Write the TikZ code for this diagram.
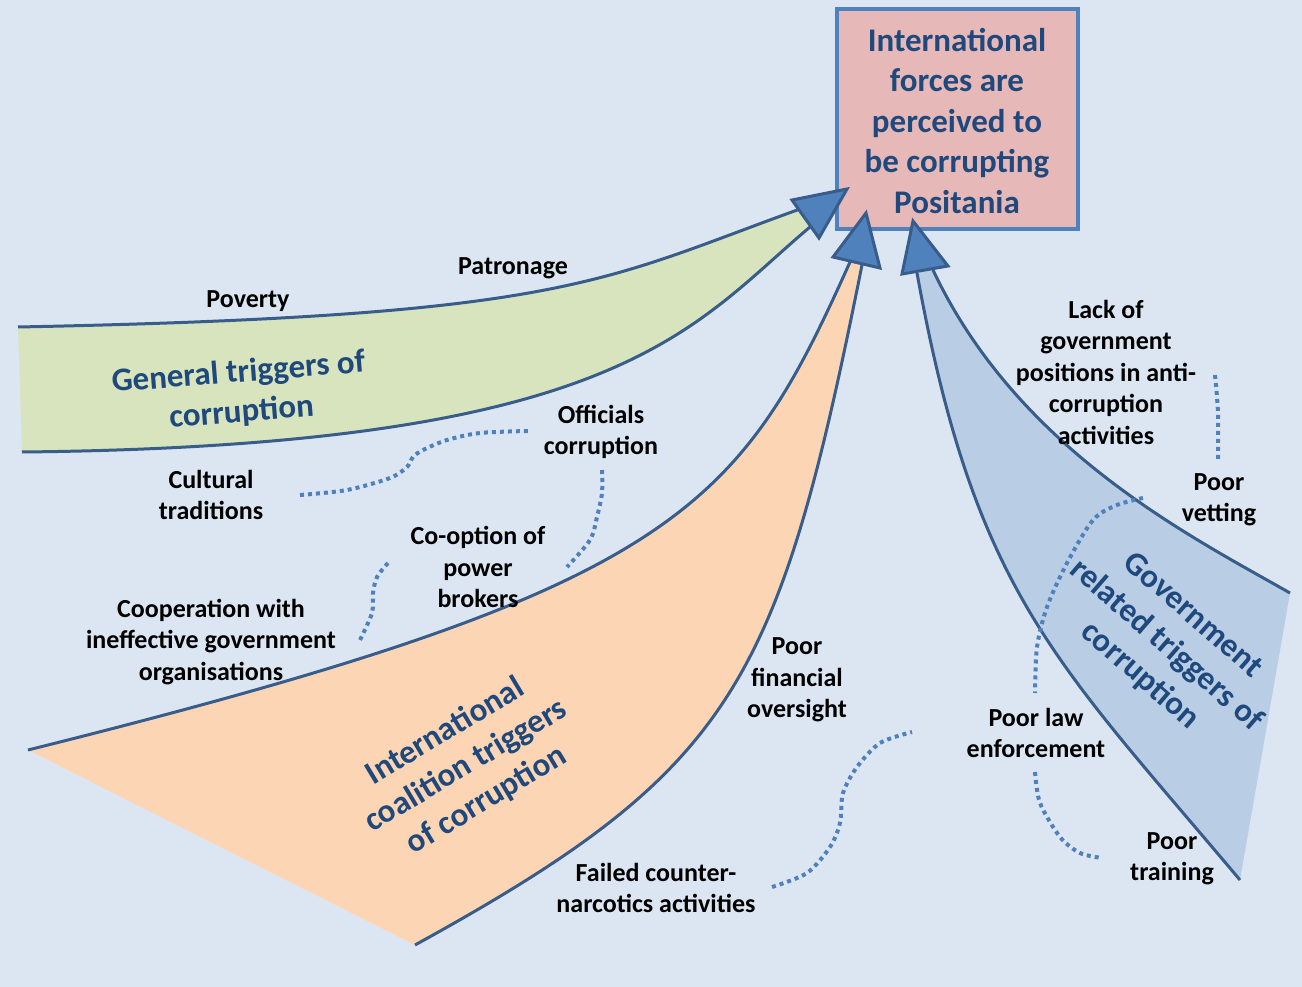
\documentclass[tikz,border=0pt]{standalone}
\usepackage{fontspec}
\setmainfont{Carlito}
\definecolor{bgc}{HTML}{DCE6F2}
\definecolor{greenF}{HTML}{D7E4BD}
\definecolor{orangeF}{HTML}{FCD5B5}
\definecolor{blueF}{HTML}{B9CDE5}
\definecolor{boxF}{HTML}{E6B9B8}
\definecolor{lineC}{HTML}{385D8A}
\definecolor{arrowF}{HTML}{4F81BD}
\definecolor{titleC}{HTML}{1F497D}
\begin{document}
\begin{tikzpicture}[x=1pt,y=-1pt,
  edge/.style={draw=lineC,line width=3pt},
  tip/.style={fill=arrowF,draw=lineC,line width=3pt},
  dots/.style={draw=arrowF,line width=4pt,dash pattern=on 4pt off 4pt},
  lbl/.style={font=\bfseries\fontsize{26}{31.5}\selectfont,align=center,inner sep=0pt,text=black},
  ttl/.style={font=\bfseries\fontsize{33}{40}\selectfont,align=center,inner sep=0pt,text=titleC}]
\useasboundingbox (0,0) rectangle (1302,987);
\fill[bgc] (0,0) rectangle (1302,987);

% band end points
\coordinate (gA) at (18,327);  \coordinate (gB) at (800,209);
\coordinate (gC) at (810,227); \coordinate (gD) at (22,452);
\coordinate (oA) at (28,750);  \coordinate (oB) at (850,262);
\coordinate (oC) at (862,265); \coordinate (oD) at (415,945);
\coordinate (bA) at (917,273); \coordinate (bB) at (1240,880);
\coordinate (bC) at (1290,593); \coordinate (bD) at (933,270);

% green band
\fill[greenF] (gA) .. controls (568,316) and (600,281) .. (gB) -- (gC)
  .. controls (690,328) and (622,446) .. (gD) -- cycle;
\draw[edge] (gA) .. controls (568,316) and (600,281) .. (gB);
\draw[edge] (gD) .. controls (622,446) and (690,328) .. (gC);

% orange band
\fill[orangeF] (oA) .. controls (678,588) and (738,512) .. (oB) -- (oC)
  .. controls (778,685) and (735,769) .. (oD) -- cycle;
\draw[edge] (oA) .. controls (678,588) and (738,512) .. (oB);
\draw[edge] (oD) .. controls (735,769) and (778,685) .. (oC);

% blue band
\fill[blueF] (bA) .. controls (975,593) and (1055,660) .. (bB) -- (bC)
  .. controls (1190,536) and (1018,450) .. (bD) -- cycle;
\draw[edge] (bA) .. controls (975,593) and (1055,660) .. (bB);
\draw[edge] (bC) .. controls (1190,536) and (1018,450) .. (bD);

% dotted links
\draw[dots] plot[smooth] coordinates {(300,495) (347,490) (390,478) (407,467) (413,457) (423,450) (447,440) (480,433) (528,431)};
\draw[dots] plot[smooth] coordinates {(602,470) (602,493) (597,517) (590,540) (567,567)};
\draw[dots] plot[smooth] coordinates {(388,563) (377,577) (373,593) (372,613) (360,640)};
\draw[dots] plot[smooth] coordinates {(772,887) (807,873) (830,847) (840,823) (843,793) (857,767) (880,743) (912,732)};
\draw[dots] plot[smooth] coordinates {(1035,772) (1040,803) (1060,837) (1080,853) (1102,858)};
\draw[dots] plot[smooth] coordinates {(1215,375) (1218,413) (1218,460)};
\draw[dots] plot[smooth] coordinates {(1143,498) (1117,505) (1093,520) (1067,563) (1047,607) (1037,647) (1035,693)};

% target box
\node[draw=arrowF,fill=boxF,line width=3.5pt,minimum width=241pt,minimum height=220pt,inner sep=0pt] (goal) at (957.5,119) {};
\node[ttl,font=\bfseries\fontsize{33}{40.5}\selectfont] (goaltxt) at (957,121) {International\\forces are\\perceived to\\be corrupting\\Positania};

% arrow heads
\draw[tip] (792,200) -- (847,189) -- (819,238) -- cycle;
\draw[tip] (833,257) -- (866,213) -- (880,268) -- cycle;
\draw[tip] (902,274) -- (913,221) -- (948,266) -- cycle;

% band titles
\node[ttl,rotate=4.5] (tgen) at (240,393) {General triggers of\\corruption};
\node[ttl,rotate=31] (tint) at (466,766) {International\\coalition triggers\\of corruption};
\node[ttl,rotate=-41] (tgov) at (1166,646) {Government\\related triggers of\\corruption};

% labels
\node[lbl] (poverty) at (248,301) {Poverty};
\node[lbl] (patron) at (513,268) {Patronage};
\node[lbl] (cult) at (211,495) {Cultural\\traditions};
\node[lbl] (offic) at (601,432) {Officials\\corruption};
\node[lbl] (coopt) at (478,567) {Co-option of\\power\\brokers};
\node[lbl] (coop) at (211,642) {Cooperation with\\ineffective government\\organisations};
\node[lbl] (fin) at (797,680) {Poor\\financial\\oversight};
\node[lbl] (narc) at (656,888) {Failed counter-\\narcotics activities};
\node[lbl] (lack) at (1106,372) {Lack of\\government\\positions in anti-\\corruption\\activities};
\node[lbl] (vet) at (1219,500) {Poor\\vetting};
\node[lbl] (law) at (1036,733) {Poor law\\enforcement};
\node[lbl] (train) at (1172,859) {Poor\\training};
\end{tikzpicture}
\end{document}
